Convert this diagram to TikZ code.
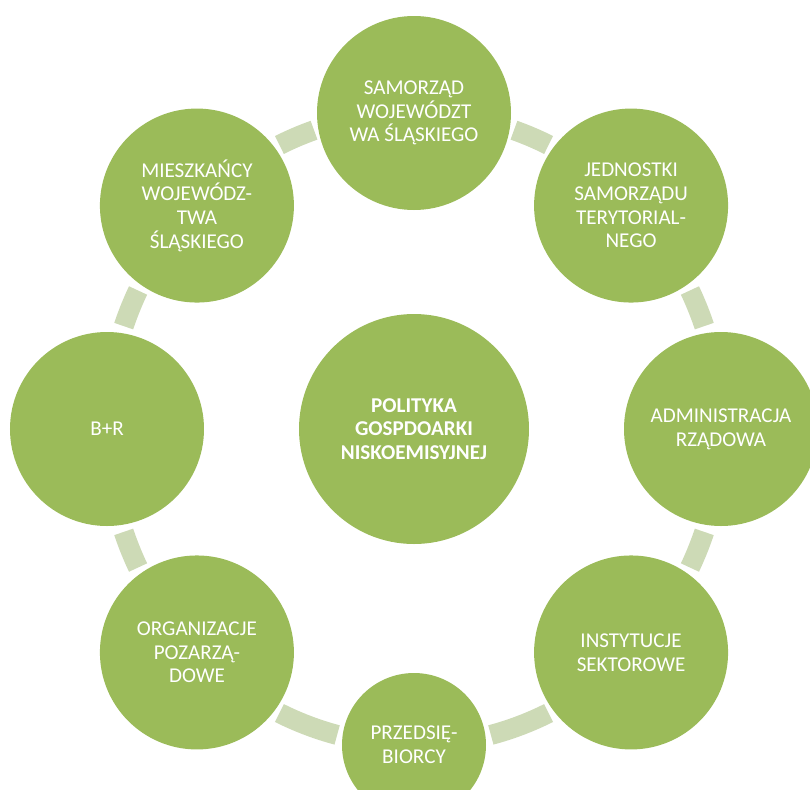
\documentclass[tikz,border=0pt]{standalone}
\usepackage{fontspec}
\setmainfont{Carlito}
\usetikzlibrary{calc}
\definecolor{olive}{RGB}{155,187,89}
\definecolor{sage}{RGB}{205,218,182}

\begin{document}
\begin{tikzpicture}[
  actor/.style={circle,fill=olive,text=white,inner sep=0pt,align=center,
    minimum size=3.88cm,font=\fontsize{12}{13.5}\selectfont},
  smallactor/.style={actor,minimum size=2.88cm},
  hubnode/.style={actor,minimum size=4.6cm,font=\fontsize{12}{13.5}\selectfont\bfseries},
  link/.style={draw=sage,line width=.4cm}
]
\useasboundingbox (-8.28,-7.2) rectangle (7.92,8.58);
\clip (-8.28,-7.2) rectangle (7.92,8.58);

% hub
\node[hubnode] (hub) at (0,0) {POLITYKA\\GOSPDOARKI\\NISKOEMISYJNEJ};

% ring of actors
\node[actor] (samorzad) at ($(hub)+(90:6.14cm and 6.32cm)$)
  {SAMORZĄD\\WOJEWÓDZT\\WA ŚLĄSKIEGO};
\node[actor] (jednostki) at ($(hub)+(45:6.14cm and 6.32cm)$)
  {JEDNOSTKI\\SAMORZĄDU\\TERYTORIAL-\\NEGO};
\node[actor] (administracja) at ($(hub)+(0:6.14cm and 6.32cm)$)
  {ADMINISTRACJA\\RZĄDOWA};
\node[actor] (instytucje) at ($(hub)+(-45:6.14cm and 6.32cm)$)
  {INSTYTUCJE\\SEKTOROWE};
\node[smallactor] (przedsiebiorcy) at ($(hub)+(-90:6.14cm and 6.32cm)$)
  {PRZEDSIĘ-\\BIORCY};
\node[actor] (organizacje) at ($(hub)+(-135:6.14cm and 6.32cm)$)
  {ORGANIZACJE\\POZARZĄ-\\DOWE};
\node[actor] (br) at ($(hub)+(180:6.14cm and 6.32cm)$)
  {B+R};
\node[actor] (mieszkancy) at ($(hub)+(135:6.14cm and 6.32cm)$)
  {MIESZKAŃCY\\WOJEWÓDZ-\\TWA\\ŚLĄSKIEGO};

% links along the ring, clockwise from the top
\foreach \a/\ga/\gb in {90/19/19,45/19/19,0/19/19,-45/19/14.5,
                        -90/14.5/19,-135/19/19,180/19/19,135/19/19}
  \draw[link] ($(hub)+({\a-\ga}:6.14cm and 6.32cm)$)
    arc[start angle=\a-\ga,end angle=\a-45+\gb,x radius=6.14cm,y radius=6.32cm];

\end{tikzpicture}
\end{document}
